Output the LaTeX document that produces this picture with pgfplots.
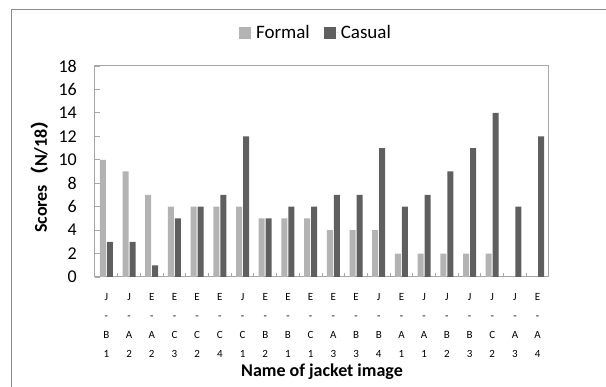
\documentclass[border=0pt]{standalone}
\usepackage{fontspec}
\setmainfont{Carlito}
\newfontfamily\cjk{Noto Sans CJK SC}
\usepackage{pgfplots}
\pgfplotsset{compat=1.18}
\definecolor{formalc}{HTML}{B3B3B3}
\definecolor{casualc}{HTML}{5F5F5F}
\definecolor{axisgray}{HTML}{A6A6A6}
\definecolor{framegray}{HTML}{8C8C8C}
\begin{document}
\begin{tikzpicture}[x=1pt,y=1pt]
\useasboundingbox (-95,-110) rectangle (511,277);
\draw[color=framegray, line width=1pt] (-83,-115) -- (-83,267) -- (515,267);
\begin{axis}[
  at={(0,0)}, anchor=south west,
  scale only axis, width=454pt, height=211pt,
  ybar=1pt, bar width=6pt,
  xmin=-0.5, xmax=19.5, ymin=0, ymax=18,
  ytick={0,2,...,18},
  xtick={0,...,19},
  xticklabels={{J\\-\\B\\1},{J\\-\\A\\2},{E\\-\\A\\2},{E\\-\\C\\3},{E\\-\\C\\2},{E\\-\\C\\4},{J\\-\\C\\1},{E\\-\\B\\2},{E\\-\\B\\1},{E\\-\\C\\1},{E\\-\\A\\3},{E\\-\\B\\3},{J\\-\\B\\4},{E\\-\\A\\1},{J\\-\\A\\1},{J\\-\\B\\2},{J\\-\\B\\3},{J\\-\\C\\2},{J\\-\\A\\3},{E\\-\\A\\4}},
  xtick style={draw=none},
  extra x ticks={0.5,1.5,...,18.5},
  extra x tick labels={},
  extra x tick style={xtick style={draw=axisgray, line width=0.8pt}, major tick length=4pt},
  ytick style={draw=axisgray, line width=0.8pt},
  major tick length=5pt,
  tick align=inside,
  xtick pos=bottom, ytick pos=left,
  axis line style={draw=axisgray, line width=1pt},
  /pgf/number format/assume math mode=true,
  yticklabel style={font=\fontsize{18}{20}\selectfont, inner sep=0pt, xshift=-18pt},
  xticklabel style={font=\fontsize{11}{19}\selectfont, align=center, anchor=north, inner sep=0pt, yshift=-16pt},
  legend style={at={(axis description cs:0.5,1)}, anchor=center, yshift=33pt, xshift=-6pt, draw=none, fill=none,
    font=\fontsize{19}{21}\selectfont, legend columns=2,
    /tikz/every even column/.append style={column sep=12pt}},
  legend image code/.code={\fill[#1] (0pt,-6pt) rectangle (12pt,6pt); \path (0pt,0pt) -- (15pt,0pt);},
]
\addplot[fill=formalc, draw=none] coordinates {(0,10) (1,9) (2,7) (3,6) (4,6) (5,6) (6,6) (7,5) (8,5) (9,5) (10,4) (11,4) (12,4) (13,2) (14,2) (15,2) (16,2) (17,2) (18,0) (19,0)};
\addplot[fill=casualc, draw=none] coordinates {(0,3) (1,3) (2,1) (3,5) (4,6) (5,7) (6,12) (7,5) (8,6) (9,6) (10,7) (11,7) (12,11) (13,6) (14,7) (15,9) (16,11) (17,14) (18,6) (19,12)};
\legend{Formal, Casual}
\end{axis}
\node[rotate=90, font=\fontsize{18}{20}\selectfont\bfseries] at (-55,105) {Scores{\cjk （}N/18{\cjk ）}};
\node[anchor=base, font=\fontsize{18}{20}\selectfont\bfseries] at (227,-100) {Name of jacket image};
\end{tikzpicture}
\end{document}
